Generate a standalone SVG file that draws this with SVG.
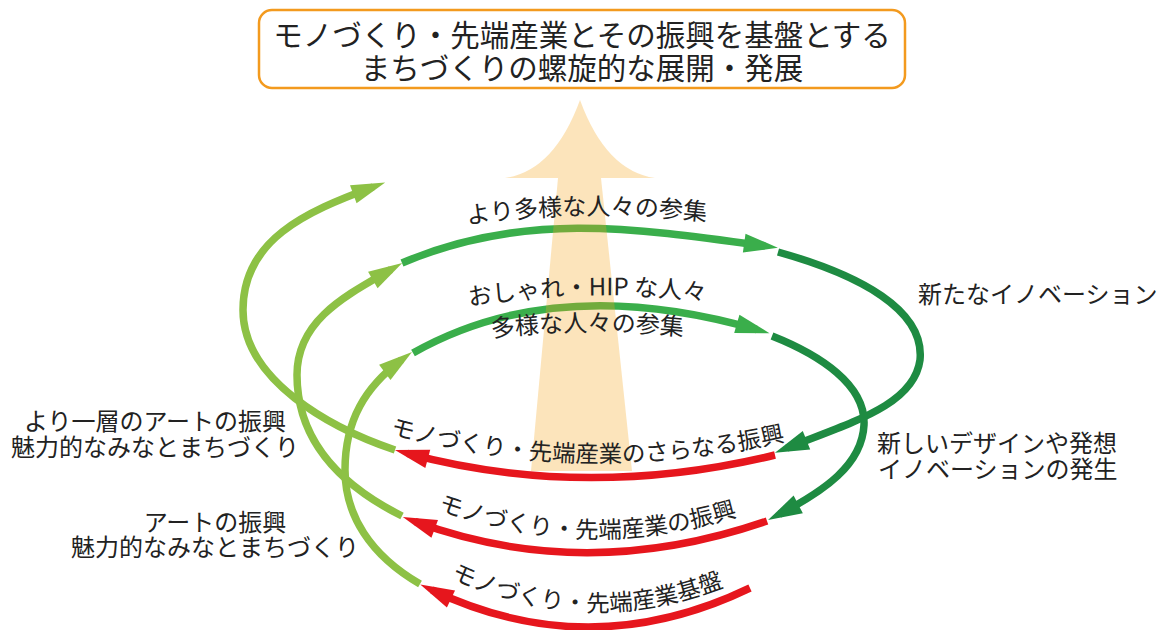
<svg xmlns="http://www.w3.org/2000/svg" width="1167" height="630" viewBox="0 0 1167 630">
<style>
text{font-family:"Noto Sans CJK JP","Noto Sans",sans-serif;fill:#222;}
.t24{font-size:24px}
.t235{font-size:23.5px}
.ttl{font-size:29.5px}
.ln{fill:none;stroke-width:7.5;stroke-linecap:butt}
.lg{stroke:#8dc145}
.mg{stroke:#3aae4b}
.dg{stroke:#1e8b42}
.rd{stroke:#e6161d}
</style>
<defs>
<marker id="mLG" viewBox="-22 -11 36 22" refX="0" refY="0" markerWidth="36" markerHeight="22" markerUnits="userSpaceOnUse" orient="auto"><path d="M13,0 L-21,-9.5 L-21,9.5 Z" fill="#8dc145"/></marker>
<marker id="mMG" viewBox="-22 -11 36 22" refX="0" refY="0" markerWidth="36" markerHeight="22" markerUnits="userSpaceOnUse" orient="auto"><path d="M13,0 L-21,-9.5 L-21,9.5 Z" fill="#3aae4b"/></marker>
<marker id="mDG" viewBox="-22 -11 36 22" refX="0" refY="0" markerWidth="36" markerHeight="22" markerUnits="userSpaceOnUse" orient="auto"><path d="M13,0 L-21,-10 L-21,10 Z" fill="#1e8b42"/></marker>
<marker id="mRD" viewBox="-22 -11 36 22" refX="0" refY="0" markerWidth="36" markerHeight="22" markerUnits="userSpaceOnUse" orient="auto"><path d="M13,0 L-21,-9.5 L-21,9.5 Z" fill="#e6161d"/></marker>
<path id="pT1" d="M430,230 Q587,202 744,226"/>
<path id="pT2" d="M435,312 Q588,282 740,306"/>
<path id="pT3" d="M455,342 Q588,322 720,340"/>
<path id="pR1" d="M385,433 Q585,488 790,440"/>
<path id="pR2" d="M425,505 Q585,568 750,512"/>
<path id="pR3" d="M430,568 Q585,650 745,578"/>
</defs>
<rect width="1167" height="630" fill="#fff"/>

<g id="title">
<rect x="259" y="10" width="646" height="78" rx="13" fill="#fff" stroke="#f39a1e" stroke-width="2.5"/>
<text class="ttl" x="582" y="46" text-anchor="middle">モノづくり・先端産業とその振興を基盤とする</text>
<text class="ttl" x="582" y="79" text-anchor="middle">まちづくりの螺旋的な展開・発展</text>
</g>

<g id="connectors">
<path class="ln lg" d="M395,450 C330,428 243,380 243,310 C243,240 305,212 373,187" marker-end="url(#mLG)"/>
<path class="ln lg" d="M402,516 C340,485 297,440 297,375 C297,320 346,295.5 391,269.5" marker-end="url(#mLG)"/>
<path class="ln lg" d="M420,584 C370,555 345,515 345,470 C345,420 365.6,386.8 401.6,359.8" marker-end="url(#mLG)"/>
<path class="ln mg" d="M402,263 C522,212 629,227 765,246" marker-end="url(#mMG)"/>
<path class="ln mg" d="M413,353 C521,292 640,296 757,329.6" marker-end="url(#mMG)"/>
<path class="ln dg" d="M778,252 C860,275 925,310 920,360 C914,405 852,422 787,448" marker-end="url(#mDG)"/>
<path class="ln dg" d="M772,336 C820,355 866,385 864,425 C862,465 824,491 779.6,514.1" marker-end="url(#mDG)"/>
</g>

<g id="big-arrow">
<path d="M580,100 Q554,171 505,178 L558,178 L531,471 L632,471 L601,178 L655,178 Q606,171 580,100 Z" fill="#f6a71e" fill-opacity="0.3"/>
</g>

<g id="red-connectors">
<path class="ln rd" d="M775,455 Q585,501 407.5,453.4" marker-end="url(#mRD)"/>
<path class="ln rd" d="M767,521 Q585,584 415,521.6" marker-end="url(#mRD)"/>
<path class="ln rd" d="M750,588 Q590,665 432,590" marker-end="url(#mRD)"/>
</g>

<g id="label-diverse-more"><text class="t24"><textPath href="#pT1" startOffset="50%" text-anchor="middle">より多様な人々の参集</textPath></text></g>
<g id="label-hip"><text class="t24"><textPath href="#pT2" startOffset="50%" text-anchor="middle">おしゃれ・HIP な人々</textPath></text></g>
<g id="label-diverse"><text class="t24"><textPath href="#pT3" startOffset="50%" text-anchor="middle">多様な人々の参集</textPath></text></g>
<g id="label-new-innovation"><text class="t24" x="918" y="303">新たなイノベーション</text></g>
<g id="label-design">
<text class="t24" x="877" y="452">新しいデザインや発想</text>
<text class="t24" x="878" y="478">イノベーションの発生</text>
</g>
<g id="label-art-more">
<text class="t24" x="155" y="430" text-anchor="middle">より一層のアートの振興</text>
<text class="t24" x="155" y="456" text-anchor="middle">魅力的なみなとまちづくり</text>
</g>
<g id="label-art">
<text class="t24" x="215" y="531" text-anchor="middle">アートの振興</text>
<text class="t24" x="215" y="556" text-anchor="middle">魅力的なみなとまちづくり</text>
</g>
<g id="label-red1"><text class="t235"><textPath href="#pR1" startOffset="50%" text-anchor="middle">モノづくり・先端産業のさらなる振興</textPath></text></g>
<g id="label-red2"><text class="t235"><textPath href="#pR2" startOffset="50%" text-anchor="middle">モノづくり・先端産業の振興</textPath></text></g>
<g id="label-red3"><text class="t235"><textPath href="#pR3" startOffset="50%" text-anchor="middle">モノづくり・先端産業基盤</textPath></text></g>
</svg>
